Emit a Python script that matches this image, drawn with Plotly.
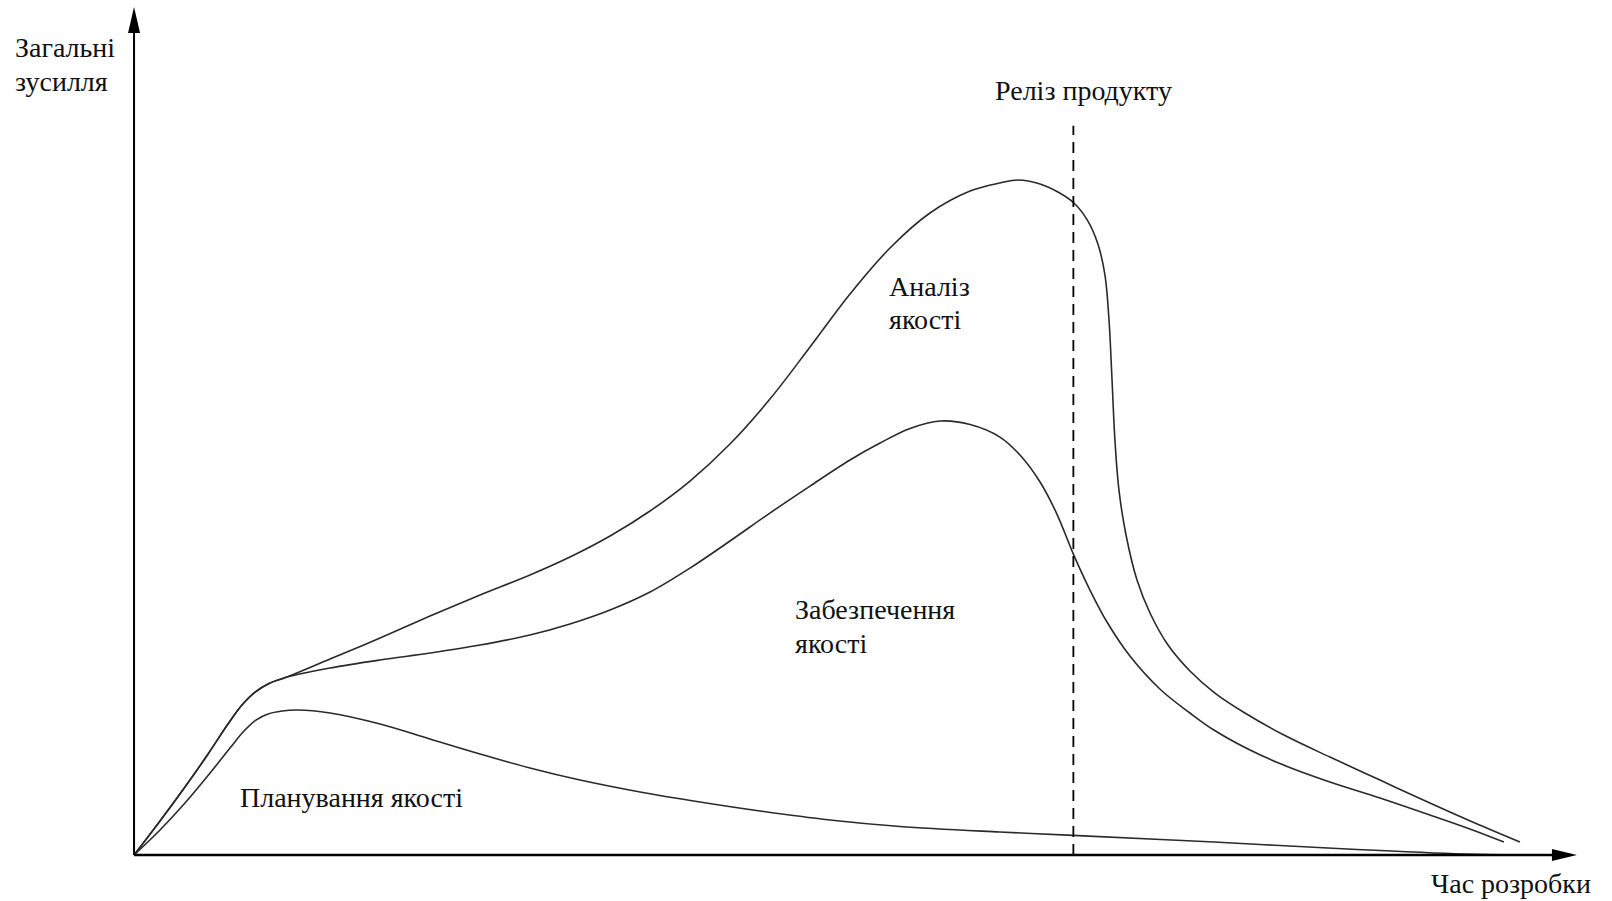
import plotly.graph_objects as go

# ---- data (time in % of axis length, effort in % of axis height) ----
# total effort (upper boundary of "Аналіз якості")
TOTAL_T = [0, 1.80, 3.53, 5.13, 6.51, 7.48, 8.39, 9.29, 10.60, 13.58, 17.05, 20.51, 23.98,
           27.44, 30.21, 32.99, 35.76, 38.53, 41.30, 44.07, 46.85, 49.62, 52.39, 55.16,
           57.94, 60.01, 61.26, 62.79, 64.03, 65.14, 66.11, 66.80, 67.29, 67.57, 67.78,
           67.98, 68.26, 68.75, 69.51, 70.41, 71.66, 73.18, 74.91, 76.99, 79.83, 82.88,
           86.35, 89.81, 92.93, 96.05]
TOTAL_E = [0, 4.01, 8.02, 11.91, 15.45, 17.69, 19.22, 20.17, 20.99, 23.11, 25.59, 28.18,
           30.66, 33.02, 35.14, 37.62, 40.57, 44.10, 48.47, 53.77, 59.91, 66.16, 71.58,
           75.71, 78.30, 79.25, 79.60, 79.13, 78.18, 76.89, 74.76, 72.05, 68.40, 63.09,
           56.01, 48.94, 43.04, 37.74, 32.43, 28.54, 24.76, 21.70, 19.10, 16.75, 14.03,
           11.56, 8.84, 6.13, 3.77, 1.53]

# upper boundary of "Забезпечення якості"
QA_T = [0, 1.80, 3.53, 5.13, 6.51, 7.48, 8.39, 9.29, 10.60, 13.58, 17.05, 20.51, 23.98,
        27.44, 30.21, 32.99, 35.76, 38.53, 41.30, 44.07, 46.85, 49.62, 51.70, 53.78, 55.86,
        57.94, 60.01, 61.40, 62.79, 63.96, 65.07, 66.25, 67.43, 69.02, 71.17, 73.18, 74.84,
        77.34, 79.83, 82.88, 86.35, 89.81, 92.58, 94.94]
QA_E = [0, 4.01, 8.02, 11.91, 15.45, 17.69, 19.22, 20.17, 20.99, 22.05, 23.00, 23.82, 24.76,
        25.94, 27.24, 28.89, 31.01, 33.84, 37.03, 40.33, 43.51, 46.58, 48.58, 50.30, 51.18,
        50.77, 49.29, 47.17, 43.99, 40.21, 35.61, 31.25, 27.48, 23.47, 19.46, 16.75, 14.74,
        12.38, 10.50, 8.61, 6.72, 4.72, 3.07, 1.53]

# upper boundary of "Планування якості"
PLAN_T = [0, 1.80, 3.53, 5.27, 6.65, 7.62, 8.45, 9.29, 10.26, 11.30, 13.58, 17.05, 20.51,
          23.98, 27.44, 30.91, 35.07, 39.22, 43.38, 48.23, 53.08, 60.01, 65.07, 74.84,
          84.75, 92.17, 95.91]
PLAN_E = [0, 2.95, 6.13, 9.67, 12.62, 14.62, 15.92, 16.63, 16.98, 17.10, 16.75, 15.45, 13.68,
          11.91, 10.26, 8.84, 7.43, 6.25, 5.19, 4.13, 3.36, 2.71, 2.32, 1.53, 0.65, 0.12, 0.0]

RELEASE_T = 65.1
RELEASE_TOP = 86.0
AXIS_T_MAX = 100.0
AXIS_E_MAX = 100.0

Y_TITLE = ["Загальні", "зусилля"]
X_TITLE = "Час розробки"
RELEASE_LABEL = "Реліз продукту"
AREA_ANALYSIS = ["Аналіз", "якості"]
AREA_ASSURANCE = ["Забезпечення", "якості"]
AREA_PLANNING = "Планування якості"

W, H = 1612, 901
X_RANGE = [-9.29, 102.43]
Y_RANGE = [-5.42, 100.83]

FONT = "Liberation Serif, Times New Roman, serif"
FS = 28
CURVE = dict(color="#2a2a2a", width=1.6, shape="spline", smoothing=1.0)

fig = go.Figure()
for t, e in [(TOTAL_T, TOTAL_E), (QA_T, QA_E), (PLAN_T, PLAN_E)]:
    fig.add_trace(go.Scatter(x=t, y=e, mode="lines", line=CURVE, hoverinfo="skip",
                             showlegend=False, cliponaxis=False))

# release marker
fig.add_trace(go.Scatter(x=[RELEASE_T, RELEASE_T], y=[0, RELEASE_TOP], mode="lines",
                         line=dict(color="black", width=1.8, dash="11px,7px"),
                         hoverinfo="skip", showlegend=False))

shapes = [
    dict(type="line", xref="x", yref="y", x0=0, y0=0, x1=0, y1=AXIS_E_MAX - 2,
         line=dict(color="black", width=2)),
    dict(type="line", xref="x", yref="y", x0=0, y0=0, x1=AXIS_T_MAX - 1, y1=0,
         line=dict(color="black", width=2.4)),
    dict(type="path", xref="x", yref="y", xsizemode="pixel", ysizemode="pixel",
         xanchor=0, yanchor=AXIS_E_MAX, path="M0,0 L-6,-26 L6,-26 Z",
         fillcolor="black", line=dict(width=0)),
    dict(type="path", xref="x", yref="y", xsizemode="pixel", ysizemode="pixel",
         xanchor=AXIS_T_MAX, yanchor=0, path="M0,0 L-25,6 L-25,-6 Z",
         fillcolor="black", line=dict(width=0)),
]

def label(text, x, y, xanchor="left"):
    return dict(text=text, x=x, y=y, xref="x", yref="y", showarrow=False,
                xanchor=xanchor, yanchor="middle",
                font=dict(family=FONT, size=FS, color="#111"))

annotations = [
    label(Y_TITLE[0], -8.39, 95.2),
    label(Y_TITLE[1], -8.39, 91.2),
    label(RELEASE_LABEL, 65.8, 90.2, "center"),
    label(X_TITLE, 95.4, -3.4, "center"),
    label(AREA_PLANNING, 7.2, 6.8),
    label(AREA_ANALYSIS[0], 52.2, 67.0),
    label(AREA_ANALYSIS[1], 52.2, 63.1),
    label(AREA_ASSURANCE[0], 45.7, 29.0),
    label(AREA_ASSURANCE[1], 45.7, 25.0),
]

fig.update_layout(
    width=W, height=H, margin=dict(l=0, r=0, t=0, b=0),
    paper_bgcolor="white", plot_bgcolor="white",
    xaxis=dict(range=X_RANGE, visible=False, fixedrange=True),
    yaxis=dict(range=Y_RANGE, visible=False, fixedrange=True),
    shapes=shapes, annotations=annotations,
)

fig.write_html("out.html", config={"displayModeBar": False},
               post_script="document.body.style.margin='0';document.body.style.overflow='hidden';")
